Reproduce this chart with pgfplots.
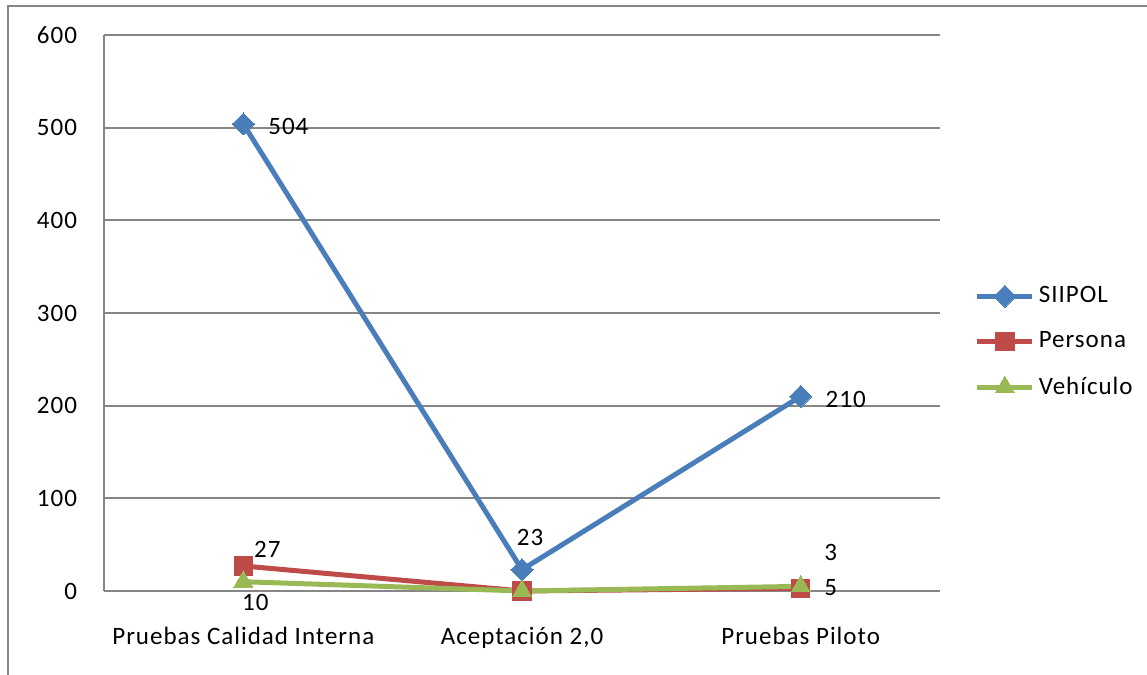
\documentclass[border=0pt]{standalone}
\usepackage{pgfplots}
\usepackage{pgfplotstable}
\pgfplotsset{compat=1.18}
\usepackage{fontspec}
\setmainfont{Carlito}[LetterSpace=4]

\definecolor{siipol}{HTML}{4A7EBB}
\definecolor{persona}{HTML}{BE4B48}
\definecolor{vehiculo}{HTML}{98B954}
\definecolor{gridg}{HTML}{868686}

% x y label label-offset(dx,dy in pt)
\pgfplotstableread{
x y lab dx dy
0 504 504 22.5 -1.5
1 23 23 4 16
2 210 210 22.5 -1.5
}\siipoltab

\pgfplotstableread{
x y lab dx dy
0 27 27 12 8.5
1 0 {} 0 0
2 3 3 15 18
}\personatab

\pgfplotstableread{
x y lab dx dy
0 10 10 6 -10.5
1 0 {} 0 0
2 5 5 15 -0.5
}\vehiculotab

\pgfplotsset{
  lbl/.style={
    nodes near coords,
    point meta=explicit symbolic,
    visualization depends on={\thisrow{dx}\as\dx},
    visualization depends on={\thisrow{dy}\as\dy},
    every node near coord/.style={anchor=center, xshift=\dx pt, yshift=\dy pt,
      text=black, font=\fontsize{12.5}{14}\selectfont, inner sep=0pt},
  },
}

\begin{document}
\begin{tikzpicture}
\path[use as bounding box] (-52pt,-42pt) rectangle (521.5pt,295.5pt);
\draw[gridg, line width=1pt] (-48pt,-80pt) -- (-48pt,292.5pt) -- (560pt,292.5pt);
\begin{axis}[
    scale only axis,
    width=418pt, height=278pt,
    xmin=-0.5, xmax=2.5,
    ymin=0, ymax=600,
    ytick={0,100,...,600},
    xtick={0,1,2},
    xticklabels={Pruebas Calidad Interna, {Aceptación 2,0}, Pruebas Piloto},
    axis x line*=bottom,
    axis y line*=left,
    axis line style={gridg, line width=1pt, -},
    major tick length=0pt,
    ymajorgrids,
    grid style={gridg, line width=1pt},
    clip=false,
    font=\fontsize{12.5}{14}\selectfont,
    /pgf/number format/assume math mode=true,
    yticklabel style={xshift=-10pt},
    xticklabel style={yshift=-14.5pt},
    legend style={at={(1.034,0.448)}, anchor=west, draw=none, fill=none,
      row sep=9pt, font=\fontsize{12.5}{14}\selectfont},
    legend cell align=left,
    legend image code/.code={\draw[mark repeat=2,mark phase=2,#1]
      plot coordinates {(0pt,0pt) (13.75pt,0pt) (27.5pt,0pt)};},
]
\addplot[siipol, line width=2.5pt, line join=round,
  mark=square*, mark size=3.9pt, mark options={rotate=45, line width=0pt},
  lbl] table[x=x, y=y, meta=lab] {\siipoltab};
\addplot[persona, line width=2.5pt, line join=round,
  mark=square*, mark size=4.6pt, mark options={line width=0pt},
  lbl] table[x=x, y=y, meta=lab] {\personatab};
\addplot[vehiculo, line width=2.5pt, line join=round,
  mark=triangle*, mark size=5.5pt, mark options={line width=0pt},
  lbl] table[x=x, y=y, meta=lab] {\vehiculotab};
\legend{SIIPOL, Persona, Vehículo}
\end{axis}
\end{tikzpicture}
\end{document}
